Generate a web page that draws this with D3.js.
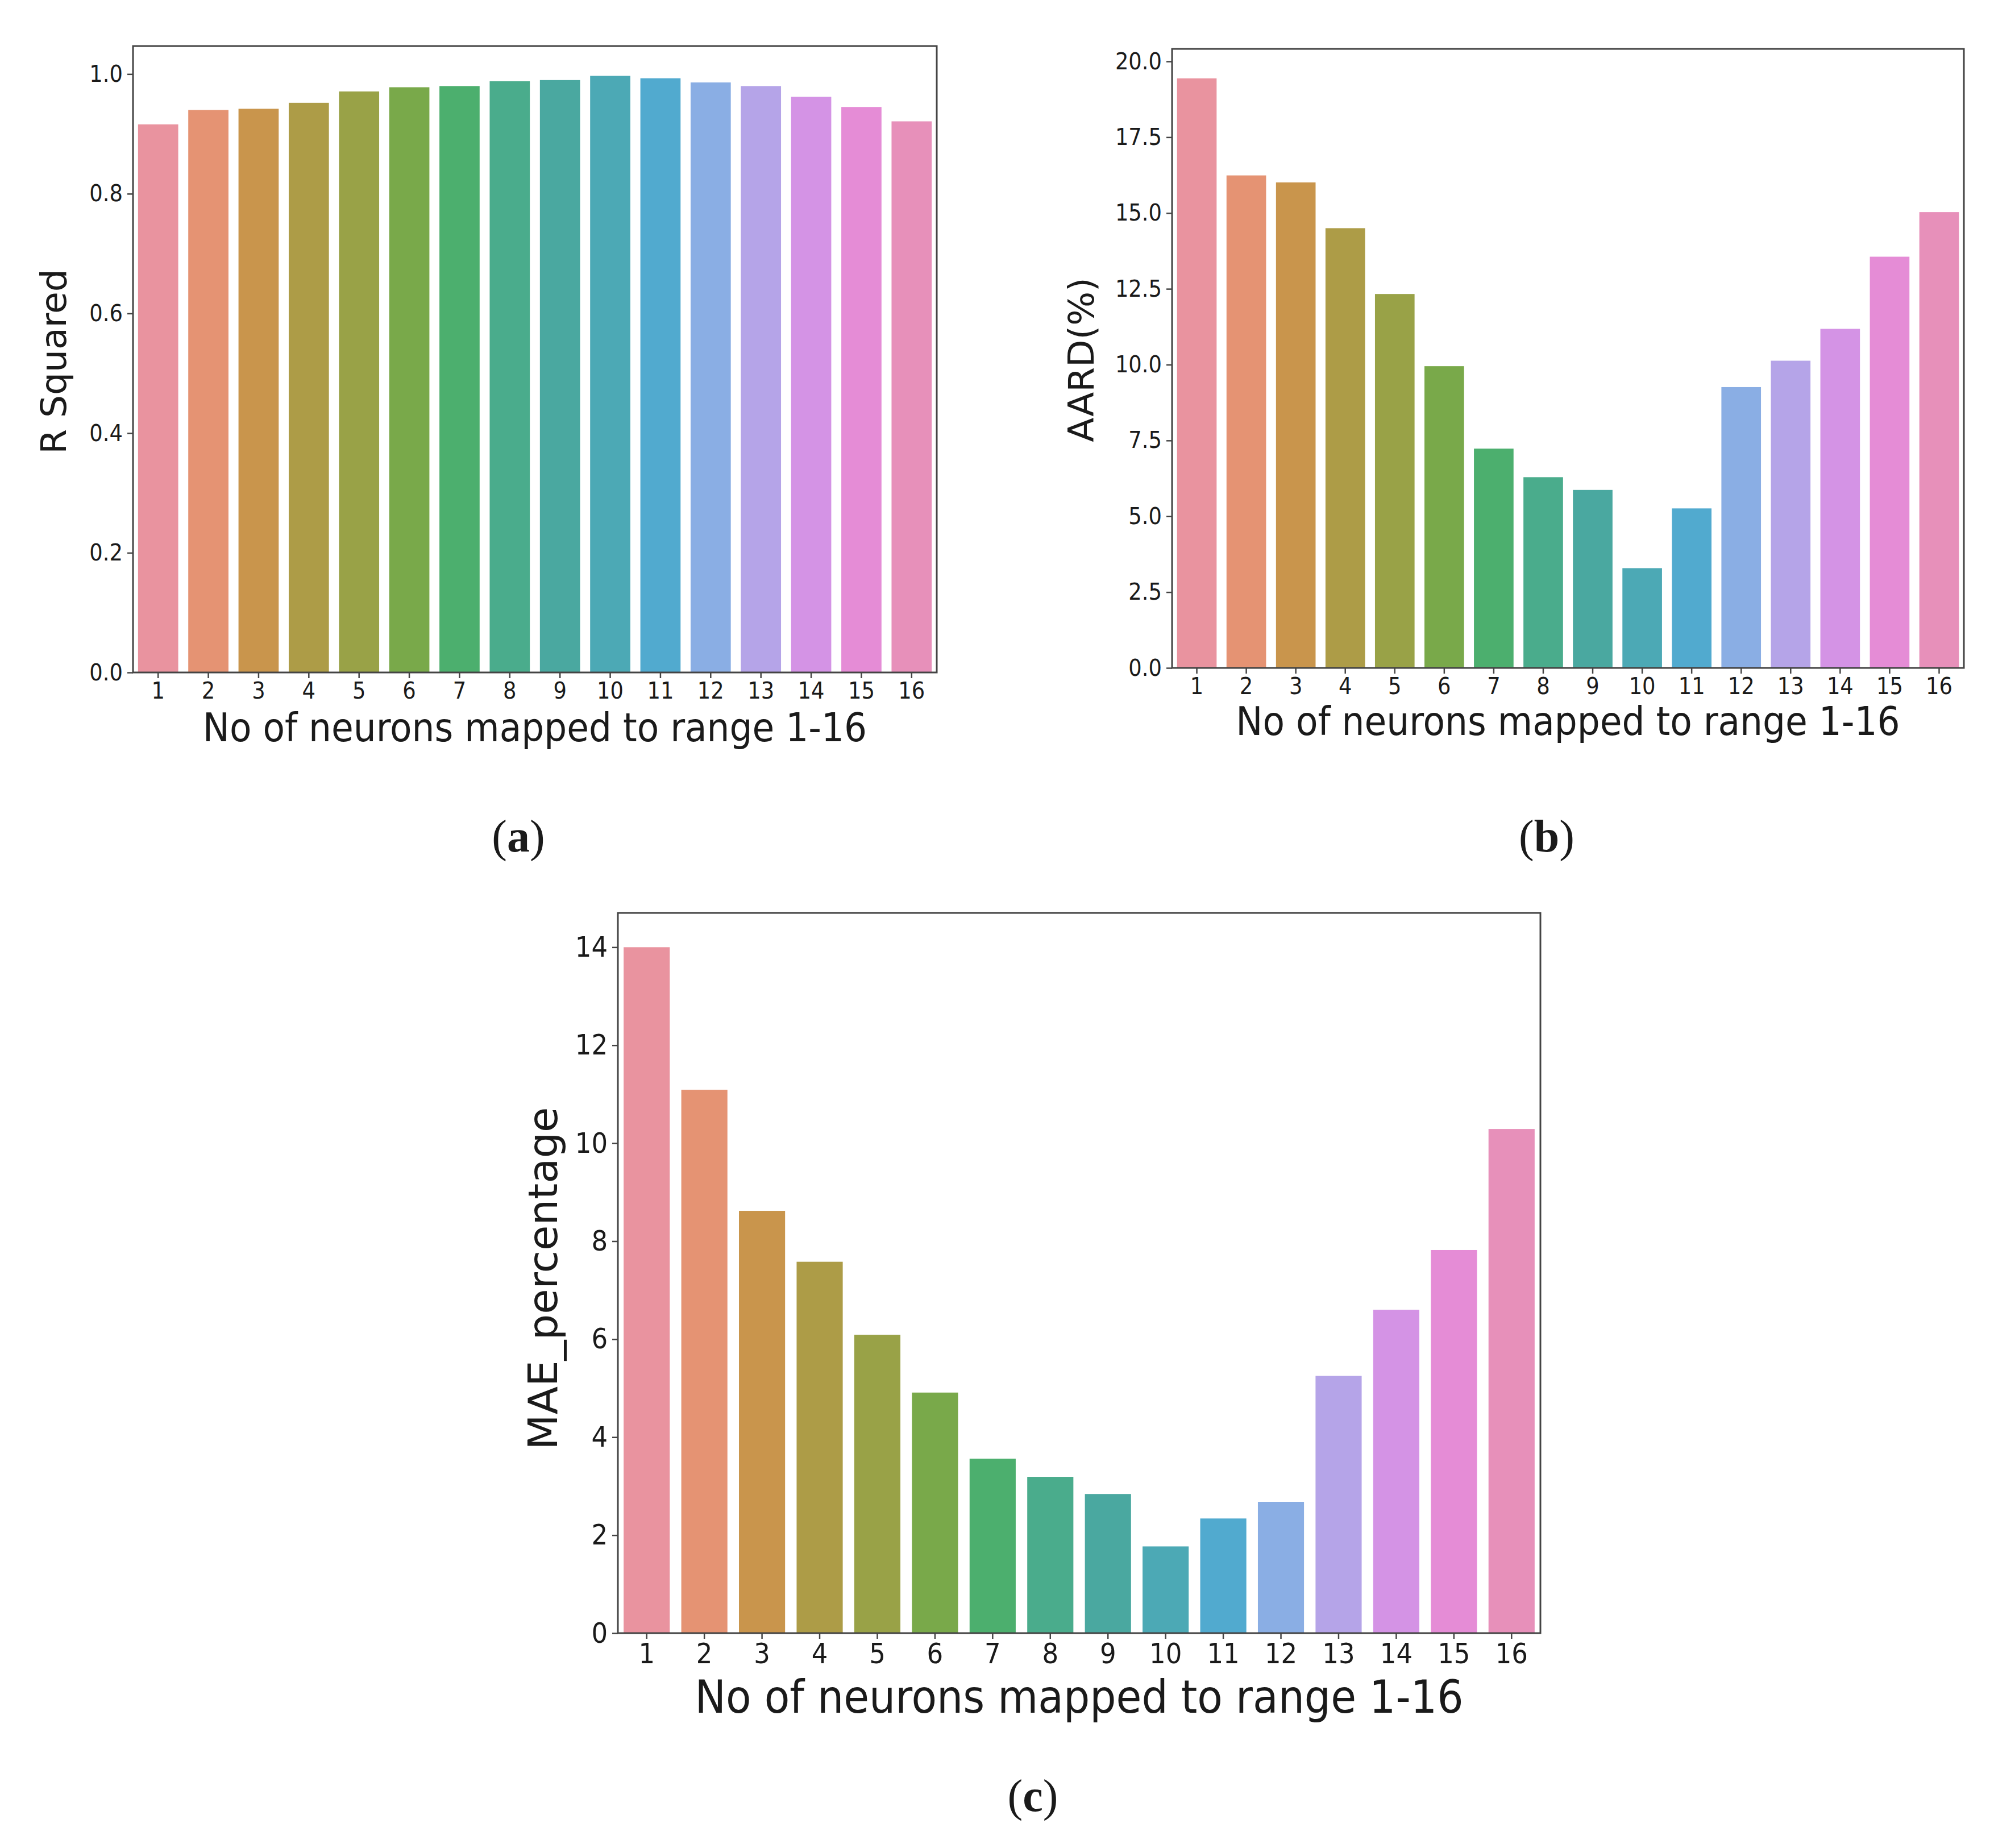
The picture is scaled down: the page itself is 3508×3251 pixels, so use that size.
<!DOCTYPE html>
<html>
<head>
<meta charset="utf-8">
<script src="https://cdn.jsdelivr.net/npm/d3@7"></script>
<style>
  html, body { margin: 0; padding: 0; background: #fff; }
  text { font-family: "DejaVu Sans Condensed", "DejaVu Sans", sans-serif; font-stretch: condensed; fill: #1a1a1a; }
  text.ylab { font-family: "DejaVu Sans", sans-serif; font-stretch: normal; }
  text.sub { font-family: "Liberation Serif", "DejaVu Serif", serif; font-stretch: normal; }
</style>
</head>
<body>
<div id="chart"></div>
<script>
// data
var categories = ["1","2","3","4","5","6","7","8","9","10","11","12","13","14","15","16"];
var rSquared = [0.916, 0.940, 0.942, 0.952, 0.971, 0.978, 0.980, 0.988, 0.990, 0.997, 0.993, 0.986, 0.980, 0.962, 0.945, 0.921];
var aard = [19.44, 16.24, 16.01, 14.50, 12.33, 9.95, 7.23, 6.29, 5.87, 3.29, 5.26, 9.26, 10.13, 11.18, 13.56, 15.03];
var mae = [14.00, 11.09, 8.62, 7.58, 6.09, 4.91, 3.56, 3.19, 2.84, 1.77, 2.34, 2.68, 5.25, 6.60, 7.82, 10.29];
var rTicks = [0, 0.2, 0.4, 0.6, 0.8, 1.0];
var aardTicks = [0, 2.5, 5, 7.5, 10, 12.5, 15, 17.5, 20];
var maeTicks = [0, 2, 4, 6, 8, 10, 12, 14];

// seaborn husl-like palette (desaturated)
var palette = ["#e9939f", "#e59373", "#c9954c", "#ad9c47", "#99a247", "#79a94a", "#4caf6e", "#4aac8c",
               "#4aa8a0", "#4ca9b5", "#51aacf", "#8aaee4", "#b5a4e8", "#d493e5", "#e58cd6", "#e790ba"];

var W = 3508, H = 3251;
var svg = d3.select("#chart").append("svg")
    .attr("width", W)
    .attr("height", H);

function drawPanel(p) {
  var x = d3.scaleBand()
      .domain(categories)
      .range([p.left, p.right])
      .paddingInner(0.2)
      .paddingOuter(0.1);
  var y = d3.scaleLinear()
      .domain([0, d3.max(p.values) * 1.05])
      .range([p.bottom, p.top]);

  var g = svg.append("g");

  g.selectAll("rect.bar")
    .data(p.values)
    .enter().append("rect")
      .attr("class", "bar")
      .attr("x", function(d, i){ return x(categories[i]); })
      .attr("y", function(d){ return y(d); })
      .attr("width", x.bandwidth())
      .attr("height", function(d){ return y(0) - y(d); })
      .attr("fill", function(d, i){ return palette[i]; });

  var xAxis = g.append("g")
      .attr("transform", "translate(0," + p.bottom + ")")
      .call(d3.axisBottom(x).tickSize(10).tickPadding(7));
  var yAxis = g.append("g")
      .attr("transform", "translate(" + p.left + ",0)")
      .call(d3.axisLeft(y).tickValues(p.ticks).tickFormat(d3.format(p.fmt)).tickSize(10).tickPadding(8));

  [xAxis, yAxis].forEach(function(a){
    a.select(".domain").remove();
    a.selectAll(".tick line").attr("stroke", "#444").attr("stroke-width", 2.5);
    a.selectAll(".tick text").attr("font-size", p.tickFont).attr("fill", "#1a1a1a");
  });

  // frame
  g.append("rect")
    .attr("x", p.left).attr("y", p.top)
    .attr("width", p.right - p.left).attr("height", p.bottom - p.top)
    .attr("fill", "none").attr("stroke", "#444").attr("stroke-width", 3);

  g.append("text")
    .attr("x", (p.left + p.right) / 2)
    .attr("y", p.xLabelY)
    .attr("text-anchor", "middle")
    .attr("font-size", p.xLabelFont)
    .text("No of neurons mapped to range 1-16");

  g.append("text")
    .attr("class", "ylab")
    .attr("transform", "translate(" + p.yLabelX + "," + p.yLabelY + ") rotate(-90)")
    .attr("text-anchor", "middle")
    .attr("dominant-baseline", "middle")
    .attr("font-size", p.yLabelFont)
    .text(p.yLabel);

  var s = svg.append("text")
    .attr("class", "sub")
    .attr("x", p.subX).attr("y", p.subY)
    .attr("text-anchor", "middle")
    .attr("dominant-baseline", "middle")
    .attr("font-size", 80);
  s.append("tspan").text("(");
  s.append("tspan").attr("font-weight", "bold").text(p.sub);
  s.append("tspan").text(")");
}

drawPanel({
  values: rSquared, ticks: rTicks, fmt: ".1f", yLabel: "R Squared",
  left: 234, right: 1648, top: 81, bottom: 1183,
  tickFont: 41, xLabelFont: 70, yLabelFont: 63,
  xLabelY: 1304, yLabelX: 99, yLabelY: 636,
  sub: "a", subX: 912, subY: 1480
});

drawPanel({
  values: aard, ticks: aardTicks, fmt: ".1f", yLabel: "AARD(%)",
  left: 2062, right: 3455, top: 86, bottom: 1175,
  tickFont: 41, xLabelFont: 70, yLabelFont: 63,
  xLabelY: 1293, yLabelX: 1907, yLabelY: 633,
  sub: "b", subX: 2721, subY: 1480
});

drawPanel({
  values: mae, ticks: maeTicks, fmt: "d", yLabel: "MAE_percentage",
  left: 1087, right: 2710, top: 1606, bottom: 2873,
  tickFont: 50, xLabelFont: 81, yLabelFont: 72,
  xLabelY: 3013, yLabelX: 960, yLabelY: 2249,
  sub: "c", subX: 1817, subY: 3168
});
</script>
</body>
</html>
